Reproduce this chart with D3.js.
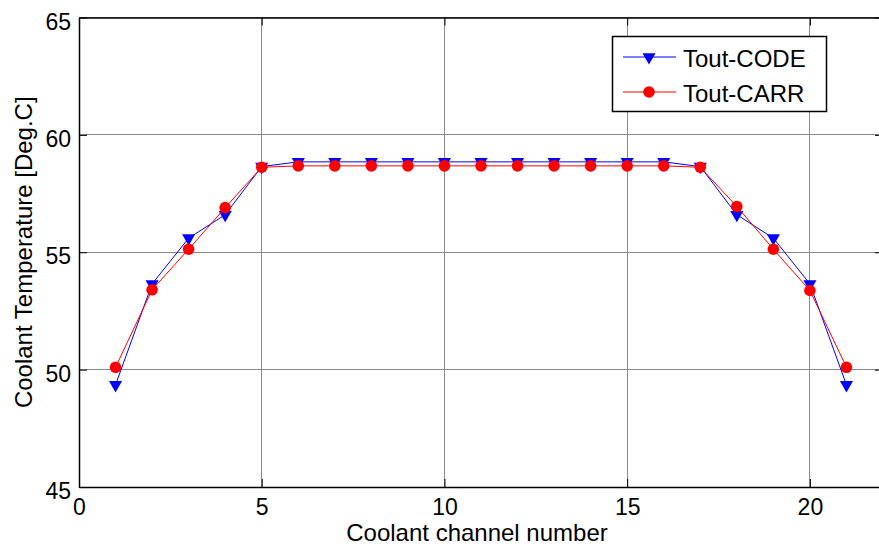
<!DOCTYPE html>
<html>
<head>
<meta charset="utf-8">
<script src="https://cdn.jsdelivr.net/npm/d3@7"></script>
<style>
  body { margin: 0; background: #fff; }
  svg { display: block; font-family: "Liberation Sans", Arial, sans-serif; }
</style>
</head>
<body>
<div id="chart"></div>
<script>
// coolant channel numbers
const channels = d3.range(1, 22);
// outlet temperature, code
const toutCode = [49.35, 53.65, 55.6, 56.6, 58.65, 58.85, 58.85, 58.85, 58.85, 58.85, 58.85,
    58.85, 58.85, 58.85, 58.85, 58.85, 58.65, 56.6, 55.6, 53.65, 49.35];
// outlet temperature, CARR
const toutCarr = [50.1, 53.4, 55.13, 56.9, 58.62, 58.68, 58.68, 58.68, 58.68, 58.68, 58.68,
    58.68, 58.68, 58.68, 58.68, 58.68, 58.62, 56.95, 55.13, 53.37, 50.1];
const xTicks = [0, 5, 10, 15, 20];
const yTicks = [45, 50, 55, 60, 65];
const seriesNames = ["Tout-CODE", "Tout-CARR"];

const width = 879, height = 550;
const margin = { top: 17.5, left: 79, bottom: 63 };

const svg = d3.select("#chart").append("svg")
    .attr("width", width)
    .attr("height", height);

const x = d3.scaleLinear().domain([0, 22]).range([margin.left, 883]);
const y = d3.scaleLinear().domain([45, 65]).range([height - margin.bottom, margin.top]);

const x0 = x.range()[0], x1 = x.range()[1];
const y0 = y.range()[0], y1 = y.range()[1];

// grid
const grid = svg.append("g")
    .attr("stroke", "#8a8a8a")
    .attr("stroke-width", 1)
    .attr("shape-rendering", "crispEdges");
xTicks.forEach(t => {
    grid.append("line").attr("x1", x(t)).attr("x2", x(t)).attr("y1", y1).attr("y2", y0);
});
yTicks.forEach(t => {
    grid.append("line").attr("x1", x0).attr("x2", x1).attr("y1", y(t)).attr("y2", y(t));
});

// axes (ticks inward)
const tk = 8;
const fontTick = "23px";
svg.append("g")
    .attr("transform", `translate(0,${y0})`)
    .call(d3.axisBottom(x).tickValues(xTicks).tickSizeInner(-tk).tickSizeOuter(0).tickPadding(12))
    .call(g => g.selectAll("text").attr("font-size", fontTick).attr("fill", "#000"));
svg.append("g")
    .attr("transform", `translate(${x0},0)`)
    .call(d3.axisLeft(y).tickValues(yTicks).tickSizeInner(-tk).tickSizeOuter(0).tickPadding(8))
    .call(g => g.selectAll("text").attr("font-size", fontTick).attr("fill", "#000").attr("dy", "0.5em"));
svg.append("g")
    .attr("transform", `translate(0,${y1})`)
    .call(d3.axisTop(x).tickValues(xTicks).tickSizeInner(-tk).tickSizeOuter(0).tickFormat(""));
svg.append("g")
    .attr("transform", `translate(${x1},0)`)
    .call(d3.axisRight(y).tickValues(yTicks).tickSizeInner(-tk).tickSizeOuter(0).tickFormat(""));
svg.selectAll(".domain").attr("stroke", "#000").attr("stroke-width", 1.5);
svg.selectAll(".tick line").attr("stroke", "#000");

// axis labels
svg.append("text")
    .attr("x", (x0 + 883) / 2 - 4)
    .attr("y", 541)
    .attr("text-anchor", "middle")
    .attr("font-size", "24px")
    .text("Coolant channel number");
svg.append("text")
    .attr("transform", `translate(32,${(y0 + y1) / 2}) rotate(-90)`)
    .attr("text-anchor", "middle")
    .attr("font-size", "24px")
    .text("Coolant Temperature [Deg.C]");

// series
const line = d3.line().x((d, i) => x(channels[i])).y(d => y(d));
const tri = d3.symbol().type(d3.symbolTriangle).size(75);

svg.append("path").datum(toutCode)
    .attr("d", line).attr("fill", "none").attr("stroke", "#0000ff").attr("stroke-width", 1);
svg.append("g").selectAll("path").data(toutCode).join("path")
    .attr("d", tri)
    .attr("transform", (d, i) => `translate(${x(channels[i])},${y(d)}) rotate(180)`)
    .attr("fill", "#0000ff");

svg.append("path").datum(toutCarr)
    .attr("d", line).attr("fill", "none").attr("stroke", "#ff0000").attr("stroke-width", 1);
svg.append("g").selectAll("circle").data(toutCarr).join("circle")
    .attr("cx", (d, i) => x(channels[i]))
    .attr("cy", d => y(d))
    .attr("r", 5.8)
    .attr("fill", "#ff0000");

// legend
const lg = svg.append("g");
lg.append("rect")
    .attr("x", 612.5).attr("y", 36.5).attr("width", 214).attr("height", 75)
    .attr("fill", "#fff").attr("stroke", "#000").attr("stroke-width", 1.5);
const rows = [
    { name: seriesNames[0], color: "#0000ff", y: 57 },
    { name: seriesNames[1], color: "#ff0000", y: 92 }
];
rows.forEach((r, i) => {
    lg.append("line").attr("x1", 623).attr("x2", 676).attr("y1", r.y).attr("y2", r.y)
        .attr("stroke", r.color).attr("stroke-width", 1);
    if (i === 0) {
        lg.append("path").attr("d", tri)
            .attr("transform", `translate(649,${r.y}) rotate(180)`).attr("fill", r.color);
    } else {
        lg.append("circle").attr("cx", 649).attr("cy", r.y).attr("r", 5.8).attr("fill", r.color);
    }
    lg.append("text").attr("x", 683).attr("y", r.y + 9.5)
        .attr("font-size", "24px").text(r.name);
});
</script>
</body>
</html>
